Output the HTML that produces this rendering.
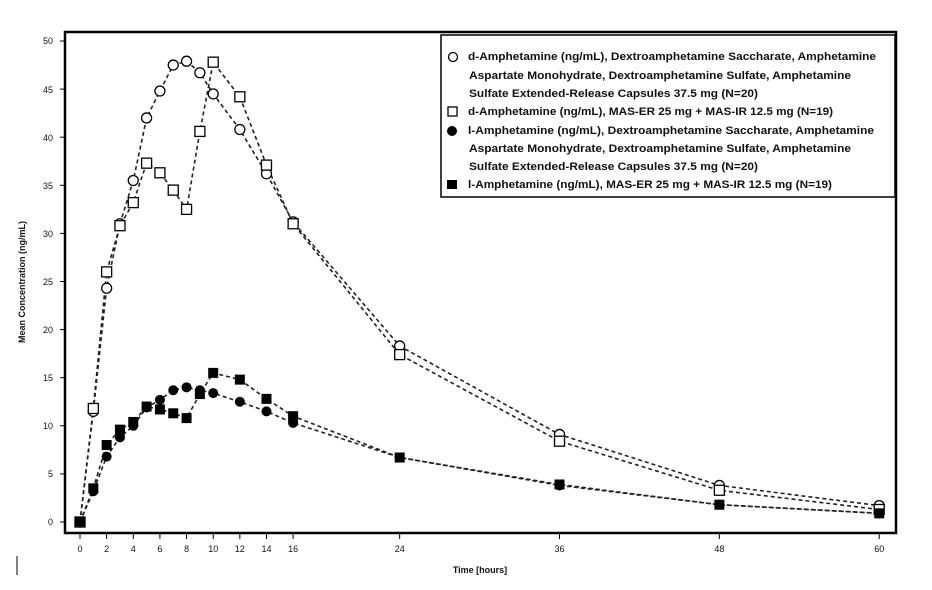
<!DOCTYPE html>
<html><head><meta charset="utf-8"><style>
body{margin:0;background:#fff;}
svg text{font-family:"Liberation Sans",sans-serif;fill:#111;}
</style></head><body>
<svg id="s" width="932" height="585" xmlns="http://www.w3.org/2000/svg">
<rect x="0" y="0" width="932" height="585" fill="#fff"/>
<rect x="65" y="32" width="831" height="501" fill="none" stroke="#000" stroke-width="2.5"/>
<line x1="17" y1="556" x2="17" y2="575" stroke="#000" stroke-width="1"/>
<g font-size="9" text-anchor="end">
<text x="53" y="525">0</text><text x="53" y="477">5</text><text x="53" y="429">10</text><text x="53" y="381">15</text><text x="53" y="333">20</text><text x="53" y="285">25</text><text x="53" y="237">30</text><text x="53" y="189">35</text><text x="53" y="141">40</text><text x="53" y="93">45</text><text x="53" y="44">50</text>
</g>
<g font-size="9" text-anchor="middle" id="xl">
<text x="80" y="552">0</text><text x="106.6" y="552">2</text><text x="133.3" y="552">4</text><text x="159.9" y="552">6</text><text x="186.6" y="552">8</text><text x="213.2" y="552">10</text><text x="239.8" y="552">12</text><text x="266.5" y="552">14</text><text x="293.1" y="552">16</text><text x="399.7" y="552">24</text><text x="559.5" y="552">36</text><text x="719.4" y="552">48</text><text x="879.2" y="552">60</text>
</g>
<text x="480" y="573" font-size="9" text-anchor="middle" font-weight="bold">Time [hours]</text>
<text transform="translate(25,282) rotate(-90)" font-size="9" text-anchor="middle" font-weight="bold">Mean Concentration (ng/mL)</text>
<g id="plot"></g>
<rect x="441" y="35" width="454" height="162" fill="#fff" stroke="#000" stroke-width="1.5"/>
<g font-size="11" font-weight="bold">
<text x="468" y="60" textLength="408" lengthAdjust="spacingAndGlyphs">d-Amphetamine (ng/mL), Dextroamphetamine Saccharate, Amphetamine</text>
<text x="469" y="79" textLength="382" lengthAdjust="spacingAndGlyphs">Aspartate Monohydrate, Dextroamphetamine Sulfate, Amphetamine</text>
<text x="469" y="97" textLength="289" lengthAdjust="spacingAndGlyphs">Sulfate Extended-Release Capsules 37.5 mg (N=20)</text>
<text x="468" y="115" textLength="365" lengthAdjust="spacingAndGlyphs">d-Amphetamine (ng/mL), MAS-ER 25 mg + MAS-IR 12.5 mg (N=19)</text>
<text x="468" y="134" textLength="406" lengthAdjust="spacingAndGlyphs">l-Amphetamine (ng/mL), Dextroamphetamine Saccharate, Amphetamine</text>
<text x="469" y="152" textLength="382" lengthAdjust="spacingAndGlyphs">Aspartate Monohydrate, Dextroamphetamine Sulfate, Amphetamine</text>
<text x="469" y="170" textLength="289" lengthAdjust="spacingAndGlyphs">Sulfate Extended-Release Capsules 37.5 mg (N=20)</text>
<text x="468" y="188" textLength="364" lengthAdjust="spacingAndGlyphs">l-Amphetamine (ng/mL), MAS-ER 25 mg + MAS-IR 12.5 mg (N=19)</text>
</g>
<circle cx="453" cy="57" r="4.5" fill="#fff" stroke="#000" stroke-width="1.3"/>
<rect x="448" y="107" width="9" height="9" fill="#fff" stroke="#000" stroke-width="1.3"/>
<circle cx="452" cy="131" r="5" fill="#000"/>
<rect x="447" y="180" width="10" height="9" fill="#000"/>
</svg>
<script>
var X=[0,1,2,3,4,5,6,7,8,9,10,12,14,16,24,36,48,60];
var S=[
[0,11.5,24.3,31,35.5,42,44.8,47.5,47.9,46.7,44.5,40.8,36.2,31.2,18.3,9.1,3.8,1.7],
[0,11.8,26,30.8,33.2,37.3,36.3,34.5,32.5,40.6,47.8,44.2,37.1,31,17.4,8.4,3.3,1.3],
[0,3.2,6.8,8.8,10,11.9,12.7,13.7,14,13.7,13.4,12.5,11.5,10.3,6.7,3.8,1.8,0.9],
[0,3.5,8,9.6,10.4,12,11.7,11.3,10.8,13.3,15.5,14.8,12.8,11,6.7,3.9,1.8,0.9]];
function px(x){return 80+13.32*x}function py(y){return 522-9.62*y}
var h='';
S.forEach(function(d){var p=d.map(function(v,i){return px(X[i]).toFixed(1)+','+py(v).toFixed(1)}).join(' ');
h+='<polyline points="'+p+'" fill="none" stroke="#222" stroke-width="1.6" stroke-dasharray="4,3"/>';});
S.forEach(function(d,k){d.forEach(function(v,i){var x=px(X[i]),y=py(v);
if(k==0)h+='<circle cx="'+x+'" cy="'+y+'" r="5" fill="#fff" stroke="#000" stroke-width="1.3"/>';
if(k==1)h+='<rect x="'+(x-5)+'" y="'+(y-5)+'" width="10" height="10" fill="#fff" stroke="#000" stroke-width="1.3"/>';
if(k==2)h+='<circle cx="'+x+'" cy="'+y+'" r="5" fill="#000"/>';
if(k==3)h+='<rect x="'+(x-5)+'" y="'+(y-5)+'" width="10" height="10" fill="#000"/>';});});
var t='';[0,5,10,15,20,25,30,35,40,45,50].forEach(function(v){t+='<line x1="60" x2="65" y1="'+py(v)+'" y2="'+py(v)+'" stroke="#000"/>'});
X.forEach(function(v){if(v%2==0||v>16)t+='<line y1="533" y2="539" x1="'+px(v)+'" x2="'+px(v)+'" stroke="#000"/>'});
document.getElementById('plot').innerHTML=t+h;
</script>
</body></html>
